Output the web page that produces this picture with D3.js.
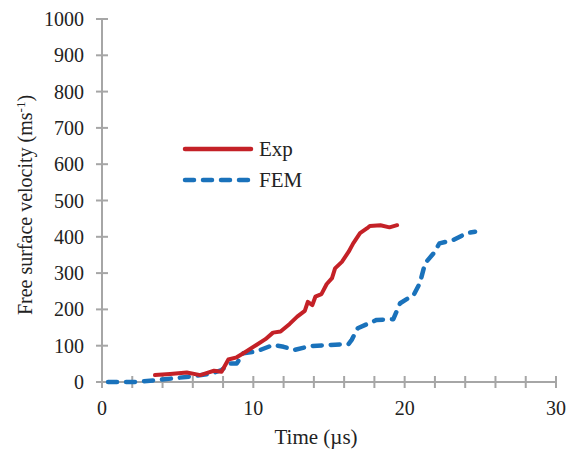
<!DOCTYPE html>
<html>
<head>
<meta charset="utf-8">
<script src="https://cdn.jsdelivr.net/npm/d3@7"></script>
<style>
  body { margin: 0; background: #fff; }
</style>
</head>
<body>
<div id="chart"></div>
<script>
// Data: time (µs) and free surface velocity (m/s)
const expTime = [3.5, 4.5, 5.6, 6.5, 7.0, 7.4, 7.9, 8.35, 8.9, 9.45, 10.2, 10.8, 11.3, 11.8, 12.4, 12.9, 13.4, 13.6, 13.9, 14.1, 14.5, 14.85, 15.2, 15.4, 15.85, 16.3, 16.6, 17.05, 17.5, 17.7, 18.4, 19.0, 19.5];
const expVel = [19, 22, 26, 19, 26, 31, 28, 62, 68, 82, 102, 118, 136, 139, 160, 180, 196, 221, 212, 235, 242, 270, 286, 313, 331, 359, 382, 410, 423, 430, 432, 426, 432];

const femTime = [0.4, 2.1, 3.6, 5.8, 7.1, 7.9, 8.46, 8.9, 9.34, 10.2, 11.3, 12.0, 12.7, 13.75, 15.1, 16.3, 16.5, 16.9, 18.15, 19.25, 19.7, 20.6, 21.0, 21.35, 21.9, 22.3, 23.2, 24.1, 24.65];
const femVel = [0, 0, 5, 15, 22, 33, 51, 51, 79, 84, 102, 97, 88, 99, 102, 105, 116, 148, 171, 173, 217, 240, 272, 327, 354, 382, 391, 410, 414];

const seriesNames = ["Exp", "FEM"];
const seriesColors = ["#c42127", "#1a72bb"];

const xTicksMajor = [0, 10, 20, 30];
const yTicks = [0, 100, 200, 300, 400, 500, 600, 700, 800, 900, 1000];

const w = 569, h = 453;
const mLeft = 102, mRight = 556, mTop = 19, mBottom = 382;
const axisColor = "#a6a6a6";
const textColor = "#222";

const svg = d3.select("#chart").append("svg")
  .attr("width", w)
  .attr("height", h)
  .attr("font-family", "'Liberation Serif', 'Times New Roman', serif");

const x = d3.scaleLinear().domain([0, 30]).range([mLeft, mRight]);
const y = d3.scaleLinear().domain([0, 1000]).range([mBottom, mTop]);

// axis lines
svg.append("line")
  .attr("x1", x(0)).attr("x2", x(0)).attr("y1", y(0)).attr("y2", y(1000))
  .attr("stroke", axisColor).attr("stroke-width", 2);
svg.append("line")
  .attr("x1", x(0)).attr("x2", x(30)).attr("y1", y(0)).attr("y2", y(0))
  .attr("stroke", axisColor).attr("stroke-width", 2);

// y ticks crossing the axis
svg.append("g").selectAll("line")
  .data(yTicks)
  .join("line")
  .attr("x1", x(0) - 6).attr("x2", x(0) + 6)
  .attr("y1", d => y(d)).attr("y2", d => y(d))
  .attr("stroke", axisColor).attr("stroke-width", 2);

svg.append("g").selectAll("text")
  .data(yTicks)
  .join("text")
  .attr("x", x(0) - 18)
  .attr("y", d => y(d) + 7)
  .attr("text-anchor", "end")
  .attr("font-size", 20)
  .attr("fill", textColor)
  .text(d => d);

// x ticks every 2 µs, crossing the axis
svg.append("g").selectAll("line")
  .data(d3.range(0, 31, 2))
  .join("line")
  .attr("x1", d => x(d)).attr("x2", d => x(d))
  .attr("y1", y(0) - 6).attr("y2", y(0) + 6)
  .attr("stroke", axisColor).attr("stroke-width", 2);

svg.append("g").selectAll("text")
  .data(xTicksMajor)
  .join("text")
  .attr("x", d => x(d))
  .attr("y", 415)
  .attr("text-anchor", "middle")
  .attr("font-size", 20)
  .attr("fill", textColor)
  .text(d => d);

// axis titles
svg.append("text")
  .attr("x", 316).attr("y", 444)
  .attr("text-anchor", "middle")
  .attr("font-size", 21)
  .attr("fill", textColor)
  .text("Time (µs)");

const yTitle = svg.append("text")
  .attr("transform", "translate(32,205) rotate(-90)")
  .attr("text-anchor", "middle")
  .attr("font-size", 20)
  .attr("fill", textColor);
yTitle.append("tspan").text("Free surface velocity (ms");
yTitle.append("tspan").attr("baseline-shift", "super").attr("font-size", 13).text("-1");
yTitle.append("tspan").text(")");

// lines
const line = d3.line().curve(d3.curveLinear);

const expPts = expTime.map((t, i) => [x(t), y(expVel[i])]);
const femPts = femTime.map((t, i) => [x(t), y(femVel[i])]);

svg.append("path")
  .attr("d", line(femPts))
  .attr("fill", "none")
  .attr("stroke", seriesColors[1])
  .attr("stroke-width", 4.5)
  .attr("stroke-linecap", "round")
  .attr("stroke-linejoin", "round")
  .attr("stroke-dasharray", "9,9");

svg.append("path")
  .attr("d", line(expPts))
  .attr("fill", "none")
  .attr("stroke", seriesColors[0])
  .attr("stroke-width", 4)
  .attr("stroke-linecap", "round")
  .attr("stroke-linejoin", "round");

// legend
const legend = svg.append("g");
seriesNames.forEach((name, i) => {
  const ly = 149 + i * 31;
  legend.append("line")
    .attr("x1", 185).attr("x2", 251).attr("y1", ly).attr("y2", ly)
    .attr("stroke", seriesColors[i])
    .attr("stroke-width", 4.5)
    .attr("stroke-linecap", "round")
    .attr("stroke-dasharray", i === 1 ? "9,9" : null);
  legend.append("text")
    .attr("x", 259).attr("y", ly + 7)
    .attr("font-size", 21)
    .attr("fill", textColor)
    .text(name);
});
</script>
</body>
</html>
